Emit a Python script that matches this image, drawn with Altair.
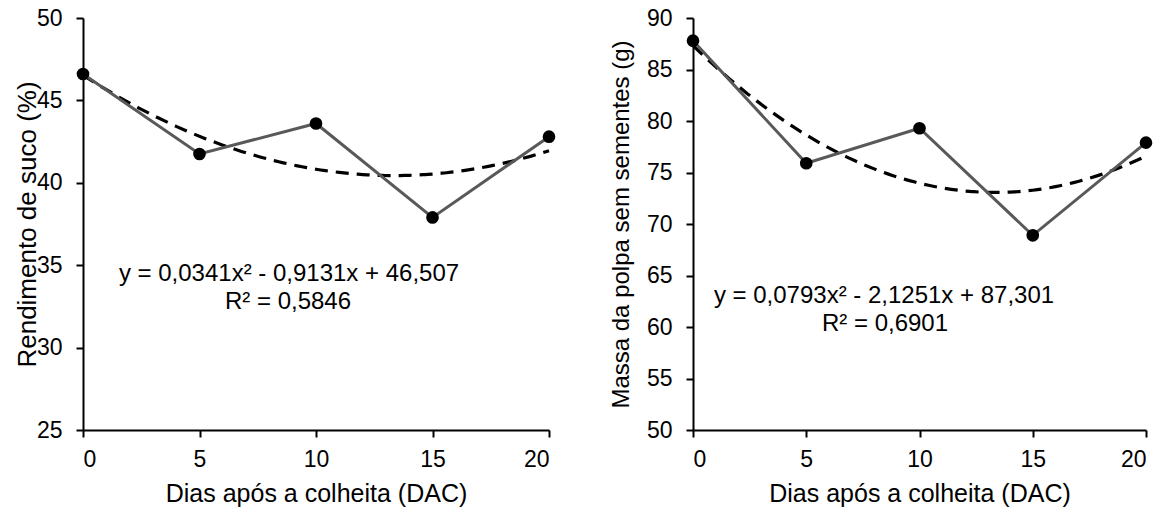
import altair as alt
import pandas as pd

days = [0, 5, 10, 15, 20]
rendimento = [46.6, 41.75, 43.6, 37.9, 42.8]
massa = [87.8, 75.9, 79.3, 68.9, 77.9]

eq_left = ["y = 0,0341x² - 0,9131x + 46,507", "R² = 0,5846"]
eq_right = ["y = 0,0793x² - 2,1251x + 87,301", "R² = 0,6901"]

FONT = "Liberation Sans"
W1, W2, H = 466, 453, 412


def panel(values, ymin, ymax, ytitle, eq, width, eq_pos, ytsize, ytpad):
    df = pd.DataFrame({"x": days, "y": values})
    xs = alt.X("x:Q", scale=alt.Scale(domain=[0, 20], nice=False),
               axis=alt.Axis(values=[0, 5, 10, 15, 20], title="Dias após a colheita (DAC)",
                             grid=False, tickSize=7, labelPadding=11, titlePadding=10,
                             titleFontSize=25))
    ys = alt.Y("y:Q", scale=alt.Scale(domain=[ymin, ymax], nice=False, zero=False),
               axis=alt.Axis(values=list(range(ymin, ymax + 1, 5)), title=ytitle,
                             grid=False, tickSize=7, labelPadding=14, titlePadding=ytpad,
                             titleFontSize=ytsize))
    base = alt.Chart(df)
    line = base.mark_line(color="#595959", strokeWidth=3).encode(x=xs, y=ys)
    trend = base.transform_regression(
        "x", "y", method="poly", order=2, extent=[0, 20]
    ).mark_line(color="black", strokeWidth=3.2, strokeDash=[13, 8]).encode(x="x:Q", y="y:Q")
    pts = base.mark_circle(color="black", size=160, opacity=1).encode(x="x:Q", y="y:Q")
    tdf = pd.DataFrame({"t": eq})
    texts = []
    for i, (px, py) in enumerate(eq_pos):
        texts.append(
            alt.Chart(tdf.iloc[[i]]).mark_text(fontSize=24, font=FONT, color="black",
                                              align="center", baseline="middle")
            .encode(text="t:N", x=alt.value(px), y=alt.value(py))
        )
    return alt.layer(trend, line, pts, *texts).properties(width=width, height=H)


left = panel(rendimento, 25, 50, "Rendimento de suco (%)", eq_left, W1,
             [(291 - 85, 274 - 18), (290 - 85, 302 - 18)], 26, -4)
right = panel(massa, 50, 90, "Massa da polpa sem sementes (g)", eq_right, W2,
              [(886 - 695, 296 - 18), (887 - 695, 324 - 18)], 24, 13)

chart = alt.hconcat(left, right, spacing=144, bounds="flush").properties(
    padding={"left": 14, "top": 7, "right": 2, "bottom": 2},
).configure_view(stroke=None).configure_axis(
    labelFont=FONT, titleFont=FONT, labelFontSize=23,
    labelColor="black", titleColor="black", titleFontWeight="normal",
    domainColor="black", tickColor="black", domainWidth=2, tickWidth=2,
)

chart.save("out.html", embed_options={"renderer": "svg", "actions": False})
